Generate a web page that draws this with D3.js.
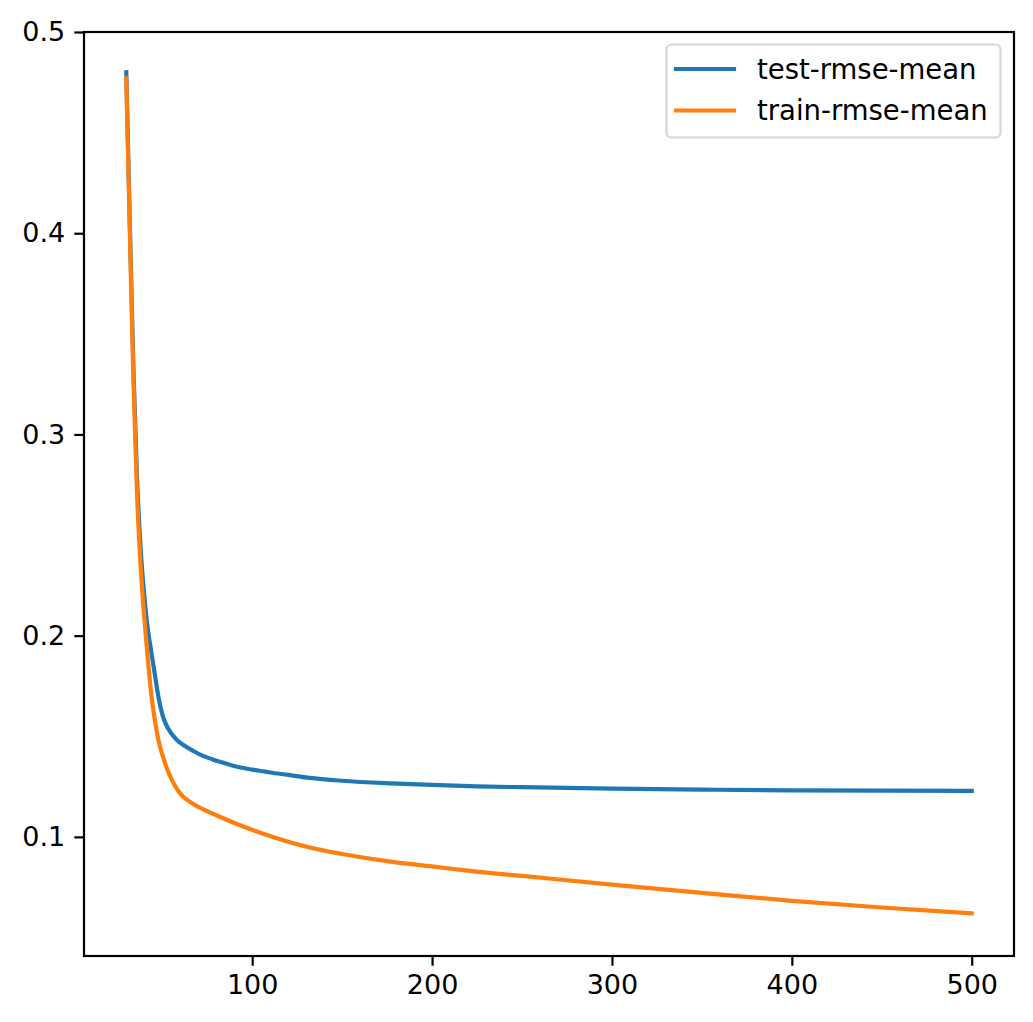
<!DOCTYPE html>
<html>
<head>
<meta charset="utf-8">
<script src="https://cdn.jsdelivr.net/npm/d3@7"></script>
<style>
  html, body { margin: 0; padding: 0; background: #fff; }
  svg { display: block; }
  text { font-family: "DejaVu Sans", sans-serif; }
</style>
</head>
<body>
<script>
// ---- data ----
const testIter = [30, 32, 34, 36, 38, 40, 42, 44, 46, 48, 50, 52, 55, 58, 62, 67, 72, 78, 84, 90, 100, 110, 120, 132, 150, 177, 200, 225, 250, 300, 350, 400, 450, 500];
const testRmse = [0.480, 0.404, 0.332, 0.278, 0.243, 0.220, 0.203, 0.1915, 0.180, 0.169, 0.161, 0.156, 0.1515, 0.1483, 0.1455, 0.1428, 0.1405, 0.1385, 0.1368, 0.1352, 0.1334, 0.1320, 0.1308, 0.1293, 0.1279, 0.1266, 0.1258, 0.1251, 0.1247, 0.1240, 0.1235, 0.1231, 0.1230, 0.1229];

const trainIter = [30, 32, 34, 36, 38, 40, 42, 44, 46, 48, 50, 52, 55, 57, 60, 66, 72, 81, 94, 107, 132, 150, 177, 200, 221, 250, 300, 350, 400, 450, 500];
const trainRmse = [0.477, 0.400, 0.326, 0.270, 0.234, 0.209, 0.188, 0.170, 0.1575, 0.1475, 0.141, 0.1355, 0.129, 0.1255, 0.1215, 0.1171, 0.114, 0.1104, 0.1055, 0.1013, 0.0947, 0.0915, 0.0877, 0.0853, 0.0831, 0.0806, 0.0763, 0.0722, 0.0682, 0.0649, 0.0620];

const seriesNames = ["test-rmse-mean", "train-rmse-mean"];
const seriesColors = ["#1f77b4", "#ff7f0e"];
const xTicks = [100, 200, 300, 400, 500];
const yTicks = [0.1, 0.2, 0.3, 0.4, 0.5];

(function () {
  // ---- layout ----
  const W = 1033, H = 1022;
  const mLeft = 84, mRight = 1014, mTop = 32, mBottom = 956;
  const fontPx = 27;
  const legendFontPx = 27.5;

  const svg = d3.select("body").append("svg").attr("width", W).attr("height", H);

  const x = d3.scaleLinear().domain([6.5, 523.5]).range([mLeft, mRight]);
  const y = d3.scaleLinear().domain([0.0408, 0.5]).range([mBottom, mTop]);

  const series = [
    testIter.map((d, i) => [d, testRmse[i]]),
    trainIter.map((d, i) => [d, trainRmse[i]])
  ];
  const line = d3.line().x(d => x(d[0])).y(d => y(d[1])).curve(d3.curveMonotoneX);

  series.forEach((s, i) => {
    svg.append("path")
      .datum(s)
      .attr("d", line)
      .attr("fill", "none")
      .attr("stroke", seriesColors[i])
      .attr("stroke-width", 4.2)
      .attr("stroke-linecap", "square")
      .attr("stroke-linejoin", "round");
  });

  // axes
  const xAxis = d3.axisBottom(x).tickValues(xTicks).tickFormat(d3.format("d")).tickSize(9.7).tickPadding(9);
  const yAxis = d3.axisLeft(y).tickValues(yTicks).tickFormat(d3.format(".1f")).tickSize(9.7).tickPadding(9);

  const gx = svg.append("g").attr("transform", `translate(0,${mBottom})`).call(xAxis);
  const gy = svg.append("g").attr("transform", `translate(${mLeft},0)`).call(yAxis);
  [gx, gy].forEach(g => {
    g.select(".domain").remove();
    g.selectAll(".tick line").attr("stroke", "#000").attr("stroke-width", 2.2);
    g.selectAll(".tick text").attr("fill", "#000").style("font-size", fontPx + "px").style("font-family", "DejaVu Sans");
  });

  // frame
  svg.append("rect")
    .attr("x", mLeft).attr("y", mTop)
    .attr("width", mRight - mLeft).attr("height", mBottom - mTop)
    .attr("fill", "none").attr("stroke", "#000").attr("stroke-width", 2.2);

  // legend
  const lg = svg.append("g");
  lg.append("rect")
    .attr("x", 666.5).attr("y", 44.5).attr("width", 334).attr("height", 93)
    .attr("rx", 5).attr("ry", 5)
    .attr("fill", "#fff").attr("fill-opacity", 0.8)
    .attr("stroke", "#d6d6d6").attr("stroke-width", 2.2);
  seriesNames.forEach((name, i) => {
    const cy = 69 + i * 41.5;
    lg.append("line")
      .attr("x1", 676).attr("x2", 734).attr("y1", cy).attr("y2", cy)
      .attr("stroke", seriesColors[i]).attr("stroke-width", 4.2).attr("stroke-linecap", "square");
    lg.append("text")
      .attr("x", 757).attr("y", cy).attr("dy", "0.35em")
      .style("font-size", legendFontPx + "px")
      .attr("fill", "#000")
      .text(name);
  });
})();
</script>
</body>
</html>
